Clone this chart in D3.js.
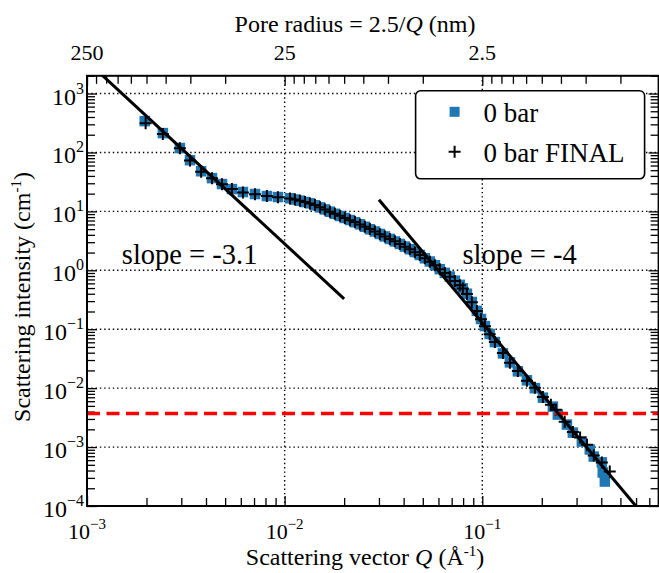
<!DOCTYPE html>
<html><head><meta charset="utf-8">
<script src="https://cdn.jsdelivr.net/npm/d3@7"></script>
<style>
body{margin:0;background:#fff}
svg{display:block}
text{font-family:"Liberation Serif","Times New Roman",serif;fill:#000}
</style>
</head><body>
<svg id="c" width="659" height="573"></svg>
<script>
// ---------------- data ----------------
const qBar = [0.00196,0.00242,0.00295,0.00332,0.00378,0.00429,0.00482,0.00541,0.00615,0.00708,0.00813,0.00925,
  0.01064,0.01127,0.01195,0.01268,0.01343,0.01423,0.0151,0.01598,0.01695,0.01795,0.01905,0.02017,0.0214,0.02268,
  0.02404,0.02547,0.027,0.02862,0.03033,0.03215,0.03408,0.03613,0.03828,0.0406,0.04301,0.0456,0.04831,0.05124,
  0.05427,0.05756,0.06097,0.06467,0.0685,0.07266,0.07695,0.07973,0.0836,0.08853,0.0939,0.0985,0.1031,0.109,0.1158,
  0.1272,0.138,0.1514,0.1682,0.1846,0.2026,0.2276,0.2411,0.268,0.2873,0.319,0.3499,0.3665,0.4026,0.407,0.417];
const iBar = [340,213,119,74,48,36.7,29.1,23.9,21.3,19.7,18.2,17.5,
  16.7,15.9,15.2,14.4,13.7,12.7,11.7,10.8,9.88,9.1,8.36,7.73,7.14,6.56,
  6.04,5.48,4.97,4.55,4.14,3.76,3.41,3.09,2.80,2.53,2.28,2.04,1.82,1.60,
  1.41,1.22,1.045,0.904,0.784,0.667,0.567,0.494,0.40,0.29,0.205,0.149,0.113,0.083,0.0606,
  0.0389,0.0274,0.0193,0.0136,0.0100,0.0069,0.00486,0.00356,0.00241,0.00176,0.00124,0.00091,0.00069,0.00055,0.00037,0.00026];

const qFinal = [0.00198,0.00242,0.00295,0.00332,0.00378,0.00429,0.00482,0.00541,0.00615,0.00708,0.00813,0.00925,
  0.01064,0.01127,0.01195,0.01268,0.01343,0.01423,0.0151,0.01598,0.01695,0.01795,0.01905,0.02017,0.0214,0.02268,
  0.02404,0.02547,0.027,0.02862,0.03033,0.03215,0.03408,0.03613,0.03828,0.0406,0.04301,0.0456,0.04831,0.05124,
  0.05427,0.05756,0.06097,0.06467,0.0685,0.07266,0.07695,0.07973,0.0836,0.08853,0.0939,0.0985,0.1031,0.109,0.1158,
  0.1272,0.138,0.1514,0.1682,0.1846,0.2026,0.2224,0.2356,0.2612,0.2873,0.3125,0.3385,0.3665,0.4026,0.4415];
const iFinal = [314,205,118,73,47,36.5,29.0,23.9,21.0,19.5,18.2,17.4,
  16.6,15.9,15.1,14.4,13.6,12.8,11.7,10.8,9.9,9.1,8.4,7.7,7.1,6.6,
  6.0,5.5,5.0,4.55,4.1,3.75,3.4,3.1,2.8,2.52,2.28,2.03,1.82,1.6,
  1.4,1.22,1.04,0.9,0.78,0.66,0.56,0.49,0.395,0.287,0.203,0.147,0.112,0.082,0.061,
  0.0395,0.027,0.0196,0.0134,0.0102,0.0071,0.00525,0.00432,0.0027,0.0018,0.00145,0.0011,0.00072,0.00055,0.000385];

// fitted power-law guide lines (end points)
const slopeLowQ = [0.001, 0.02];
const slopeLowI = [3540, 0.328];
const slopeHighQ = [0.03, 0.6];
const slopeHighI = [15.8, 9.9e-5];
const slopeLowLabel = {q: 0.0015, i: 1.3, text: "slope = -3.1"};
const slopeHighLabel = {q: 0.0794, i: 1.3, text: "slope = -4"};

// detection threshold (red dashed)
const thresholdI = 0.0037;

// axes
const xDomain = [1e-3, 0.78];
const yDomain = [1e-4, 2000];
const xMajor = [1e-3, 1e-2, 1e-1];
const xMajorExp = ["\u22123", "\u22122", "\u22121"];
const topLabels = ["250", "25", "2.5"];
const yMajorExp = [-4, -3, -2, -1, 0, 1, 2, 3];
const xGrid = [1e-2, 1e-1];
const yGrid = [1e-3, 1e-2, 1e-1, 1, 10, 100, 1000];
const seriesNames = ["0 bar", "0 bar FINAL"];
const blue = "#1f77b4";

// ---------------- layout ----------------
const pL = 87, pT = 75.8, plotW = 571.6, plotH = 430.2;
const pB = pT + plotH, pR = pL + plotW;
const svg = d3.select("#c");
const x = d3.scaleLog().domain(xDomain).range([pL, pR]);
const y = d3.scaleLog().domain(yDomain).range([pB, pT]);

svg.append("defs").append("clipPath").attr("id","clip")
  .append("rect").attr("x",pL).attr("y",pT).attr("width",plotW).attr("height",plotH);

// grid
const grid = svg.append("g").attr("stroke","#000").attr("stroke-width",1.4).attr("stroke-dasharray","1.4,2.9");
grid.selectAll(".gx").data(xGrid).join("line")
  .attr("x1",d=>x(d)).attr("x2",d=>x(d)).attr("y1",pT).attr("y2",pB);
grid.selectAll(".gy").data(yGrid).join("line")
  .attr("x1",pL).attr("x2",pR).attr("y1",d=>y(d)).attr("y2",d=>y(d));

// minor ticks
const xMinor = [], topMinor = [], yMinor = [];
[-3,-2,-1].forEach(n=>{ for(let k=2;k<10;k++){ const v=k*Math.pow(10,n); if(v<=xDomain[1]) xMinor.push(v);} });
[-2,-1,0].forEach(n=>{ for(let k=2;k<10;k++){ const v=Math.pow(10,n)/k; if(v>=xDomain[0] && v<=xDomain[1]) topMinor.push(v);} });
[-4,-3,-2,-1,0,1,2,3].forEach(n=>{ for(let k=2;k<10;k++){ const v=k*Math.pow(10,n); if(v<=yDomain[1]) yMinor.push(v);} });
const yMajor = yMajorExp.map(e=>Math.pow(10,e));

function drawTicks(axisFn, scale, vals, size, tr){
  const g = svg.append("g").attr("transform",tr)
    .call(axisFn(scale).tickValues(vals).tickSizeInner(-size).tickSizeOuter(0).tickFormat(""));
  g.select(".domain").remove();
  g.selectAll("line").attr("stroke","#000").attr("stroke-width",1.3);
}
drawTicks(d3.axisBottom, x, xMajor, 10, `translate(0,${pB})`);
drawTicks(d3.axisBottom, x, xMinor, 8, `translate(0,${pB})`);
drawTicks(d3.axisTop, x, xMajor, 10, `translate(0,${pT})`);
drawTicks(d3.axisTop, x, topMinor, 8, `translate(0,${pT})`);
drawTicks(d3.axisLeft, y, yMajor, 10, `translate(${pL},0)`);
drawTicks(d3.axisLeft, y, yMinor, 8, `translate(${pL},0)`);
drawTicks(d3.axisRight, y, yMajor, 10, `translate(${pR},0)`);
drawTicks(d3.axisRight, y, yMinor, 8, `translate(${pR},0)`);

// data
const plot = svg.append("g").attr("clip-path","url(#clip)");
const sq = 10.5;
plot.append("g").selectAll("rect").data(d3.range(qBar.length)).join("rect")
  .attr("x",i=>x(qBar[i])-sq/2).attr("y",i=>y(iBar[i])-sq/2)
  .attr("width",sq).attr("height",sq).attr("fill",blue);
const plusPath = "M-6,0H6M0,-6V6";
plot.append("g").selectAll("path").data(d3.range(qFinal.length)).join("path")
  .attr("d",plusPath).attr("transform",i=>`translate(${x(qFinal[i])},${y(iFinal[i])})`)
  .attr("stroke","#000").attr("stroke-width",2).attr("fill","none");

// threshold
plot.append("line").attr("x1",x(xDomain[0])).attr("x2",x(xDomain[1]))
  .attr("y1",y(thresholdI)).attr("y2",y(thresholdI))
  .attr("stroke","#ff0000").attr("stroke-width",3.5).attr("stroke-dasharray","13,6.5");

// slope lines
const line = d3.line().x(d=>x(d[0])).y(d=>y(d[1]));
plot.append("path").attr("d",line(d3.zip(slopeLowQ,slopeLowI))).attr("stroke","#000").attr("stroke-width",3).attr("fill","none");
plot.append("path").attr("d",line(d3.zip(slopeHighQ,slopeHighI))).attr("stroke","#000").attr("stroke-width",3).attr("fill","none");

// frame
svg.append("rect").attr("x",pL).attr("y",pT).attr("width",plotW).attr("height",plotH)
  .attr("fill","none").attr("stroke","#000").attr("stroke-width",2);

// slope annotations
[slopeLowLabel, slopeHighLabel].forEach(s=>{
  svg.append("text").attr("x",x(s.q)).attr("y",y(s.i)).attr("font-size",28.5).text(s.text);
});

// tick labels
const tickFs = 22, supFs = 15;
xMajor.forEach((v,i)=>{
  const t = svg.append("text").attr("x",x(v)).attr("y",pB+33).attr("text-anchor","middle").attr("font-size",tickFs);
  t.append("tspan").text("10");
  t.append("tspan").attr("font-size",supFs).attr("dy",-10).text(xMajorExp[i]);
});
xMajor.forEach((v,i)=>{
  svg.append("text").attr("x",x(v)).attr("y",60).attr("text-anchor","middle").attr("font-size",tickFs).text(topLabels[i]);
});
yMajorExp.forEach(e=>{
  const t = svg.append("text").attr("x",pL-3).attr("y",y(Math.pow(10,e))+11).attr("text-anchor","end").attr("font-size",tickFs+2);
  t.append("tspan").text("10");
  t.append("tspan").attr("font-size",supFs+1).attr("dy",-11).text(e<0 ? "\u2212"+(-e) : String(e));
});

// axis titles
const tt = svg.append("text").attr("x",355).attr("y",32).attr("text-anchor","middle").attr("font-size",24);
tt.append("tspan").text("Pore radius = 2.5/");
tt.append("tspan").attr("font-style","italic").text("Q");
tt.append("tspan").text(" (nm)");

const xt = svg.append("text").attr("x",365).attr("y",565).attr("text-anchor","middle").attr("font-size",24);
xt.append("tspan").text("Scattering vector ");
xt.append("tspan").attr("font-style","italic").text("Q");
xt.append("tspan").text(" (\u00C5");
xt.append("tspan").attr("font-size",15).attr("dy",-9).text("-1");
xt.append("tspan").attr("dy",9).text(")");

const yt = svg.append("text").attr("transform","translate(30,297) rotate(-90)").attr("text-anchor","middle").attr("font-size",24);
yt.append("tspan").text("Scattering intensity (cm");
yt.append("tspan").attr("font-size",15).attr("dy",-9).text("-1");
yt.append("tspan").attr("dy",9).text(")");

// legend
const lg = svg.append("g").attr("transform",`translate(${pR-243},${pT+15})`);
lg.append("rect").attr("x",0).attr("y",0).attr("width",229).attr("height",88).attr("rx",5)
  .attr("fill","#fff").attr("stroke","#000").attr("stroke-width",1.6);
lg.append("rect").attr("x",39-5).attr("y",21-5).attr("width",10).attr("height",10).attr("fill",blue);
lg.append("path").attr("d",plusPath).attr("transform","translate(39,61)").attr("stroke","#000").attr("stroke-width",2);
lg.append("text").attr("x",68).attr("y",31).attr("font-size",27).text(seriesNames[0]);
lg.append("text").attr("x",68).attr("y",71).attr("font-size",27).text(seriesNames[1]);
</script>
</body></html>
